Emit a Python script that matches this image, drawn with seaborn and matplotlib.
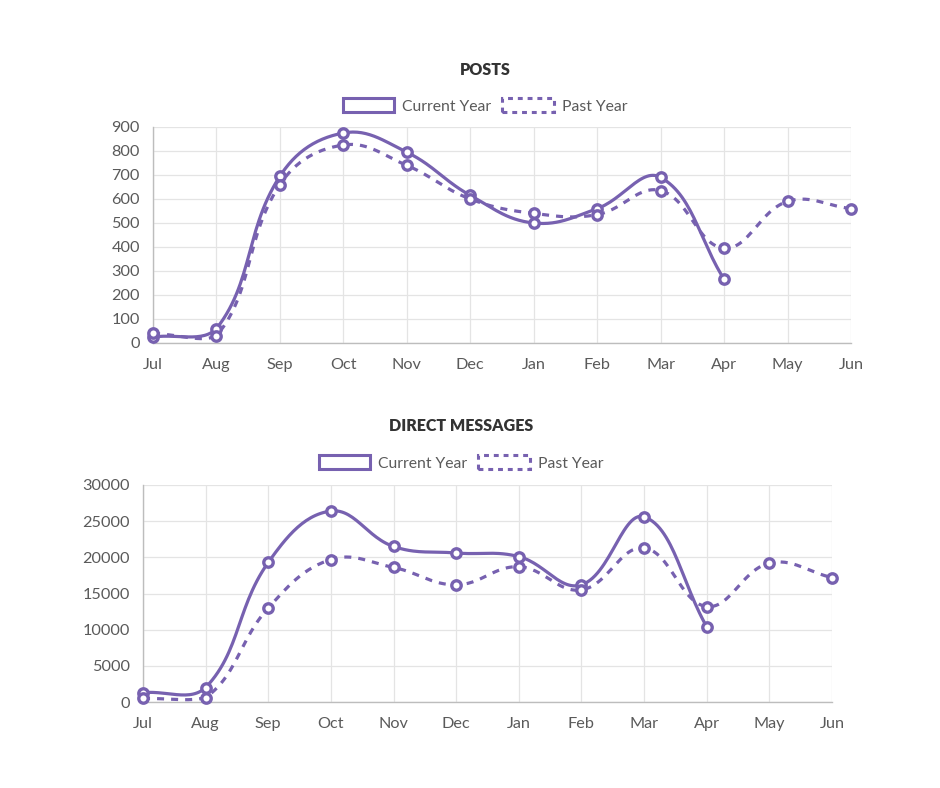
import numpy as np
import pandas as pd
import matplotlib
matplotlib.use("Agg")
import matplotlib.pyplot as plt
import seaborn as sns
from matplotlib.patches import Patch

sns.set_style("white")
plt.rcParams['font.family'] = ['Lato', 'DejaVu Sans']

# data
months = ['Jul', 'Aug', 'Sep', 'Oct', 'Nov', 'Dec', 'Jan', 'Feb', 'Mar', 'Apr', 'May', 'Jun']
posts_current = [25, 60, 695, 875, 795, 615, 500, 560, 690, 265, np.nan, np.nan]
posts_past = [40, 30, 660, 825, 740, 600, 540, 535, 635, 395, 590, 560]
dm_current = [1300, 2000, 19300, 26400, 21500, 20600, 20100, 16200, 25600, 10400, np.nan, np.nan]
dm_past = [500, 600, 13000, 19700, 18600, 16200, 18700, 15500, 21300, 13200, 19200, 17200]
posts_ticks = list(range(0, 1000, 100))
dm_ticks = list(range(0, 35000, 5000))

purple = '#7761b0'
grid_c = '#e4e4e4'
text_c = '#5a5a5a'
LW = 2.3


def chartjs_curve(ax, xs, ys, tension=0.4, n=30):
    # bezier like chart.js (tension 0.4), computed in pixel space
    pts = ax.transData.transform(np.column_stack([xs, ys]))
    m = len(pts)
    prev_cp = np.zeros_like(pts)
    next_cp = np.zeros_like(pts)
    for i in range(m):
        p0 = pts[max(i - 1, 0)]
        p1 = pts[i]
        p2 = pts[min(i + 1, m - 1)]
        d01 = np.hypot(*(p1 - p0))
        d12 = np.hypot(*(p2 - p1))
        tot = d01 + d12
        s01 = d01 / tot if tot else 0
        s12 = d12 / tot if tot else 0
        prev_cp[i] = p1 - tension * s01 * (p2 - p0)
        next_cp[i] = p1 + tension * s12 * (p2 - p0)
    bb = ax.bbox
    for cp in (prev_cp, next_cp):
        cp[:, 0] = np.clip(cp[:, 0], bb.x0, bb.x1)
        cp[:, 1] = np.clip(cp[:, 1], bb.y0, bb.y1)
    t = np.linspace(0, 1, n)[:, None]
    segs = []
    for i in range(m - 1):
        a, b, c, d = pts[i], next_cp[i], prev_cp[i + 1], pts[i + 1]
        seg = (1 - t) ** 3 * a + 3 * (1 - t) ** 2 * t * b + 3 * (1 - t) * t ** 2 * c + t ** 3 * d
        segs.append(seg if i == 0 else seg[1:])
    curve = ax.transData.inverted().transform(np.vstack(segs))
    return curve[:, 0], curve[:, 1]


def draw_chart(fig, rect, current, past, yticks, title, title_xy, legend_xy):
    W, H = 940, 788
    l, t, r, b = rect
    ax = fig.add_axes([l / W, 1 - b / H, (r - l) / W, (b - t) / H])
    ax.set_xlim(0, len(months) - 1)
    ax.set_ylim(yticks[0], yticks[-1])

    for vals, ls in ((current, '-'), (past, (0, (2.2, 2.2)))):
        df = pd.DataFrame({'x': np.arange(len(months)), 'y': vals}).dropna()
        cx, cy = chartjs_curve(ax, df['x'].values, df['y'].values)
        sns.lineplot(x=cx, y=cy, ax=ax, sort=False, estimator=None,
                     color=purple, linewidth=LW, linestyle=ls, zorder=3)
        sns.scatterplot(data=df, x='x', y='y', ax=ax, s=46, color='white',
                        edgecolor=purple, linewidth=2.4, zorder=4, clip_on=False)

    ax.set_xticks(range(len(months)))
    ax.set_xticklabels(months)
    ax.set_yticks(yticks)
    ax.set_xlabel('')
    ax.set_ylabel('')
    ax.grid(True, color=grid_c, linewidth=0.9)
    ax.tick_params(axis='both', length=6, width=0.9, color=grid_c,
                   labelcolor=text_c, labelsize=11.7, pad=3.5)
    ax.tick_params(axis='x', pad=5)
    for side in ('top', 'right'):
        ax.spines[side].set_visible(False)
    for side in ('left', 'bottom'):
        ax.spines[side].set_color('#bdbdbd')
        ax.spines[side].set_linewidth(1.0)

    fig.text(title_xy[0] / W, 1 - title_xy[1] / H, title, ha='center', va='center',
             fontsize=11.5, fontweight='heavy', color='#333333')
    handles = [Patch(facecolor='white', edgecolor=purple, linewidth=2.2, label='Current Year'),
               Patch(facecolor='white', edgecolor=purple, linewidth=2.2,
                     linestyle=(0, (1.6, 1.6)), label='Past Year')]
    fig.legend(handles=handles, loc='center', ncol=2, frameon=False,
               bbox_to_anchor=(legend_xy[0] / W, 1 - legend_xy[1] / H),
               fontsize=11.3, labelcolor=text_c, handlelength=3.3, handleheight=1.0,
               handletextpad=0.5, columnspacing=0.7)
    return ax


fig = plt.figure(figsize=(9.4, 7.88), dpi=100)
draw_chart(fig, (153, 127, 851, 343), posts_current, posts_past, posts_ticks,
           'POSTS', (485, 70), (485, 106))
draw_chart(fig, (143, 485, 832, 702), dm_current, dm_past, dm_ticks,
           'DIRECT MESSAGES', (461, 426), (461, 463))

fig.savefig('out.png', dpi=100, facecolor='white')
